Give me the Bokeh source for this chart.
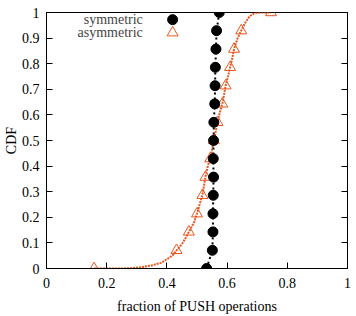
from bokeh.plotting import figure
from bokeh.models import LinearAxis, FixedTicker, Range1d, Label
from bokeh.embed import file_html
from bokeh.resources import INLINE

# CDF of the fraction of PUSH operations
x_ticks = [0, 0.2, 0.4, 0.6, 0.8, 1]
x_tick_labels = ["0", "0.2", "0.4", "0.6", "0.8", "1"]
y_ticks = [0, 0.1, 0.2, 0.3, 0.4, 0.5, 0.6, 0.7, 0.8, 0.9, 1]
y_tick_labels = ["0", "0.1", "0.2", "0.3", "0.4", "0.5", "0.6", "0.7", "0.8", "0.9", "1"]

# symmetric workload
sym_x = [0.532, 0.551, 0.553, 0.553, 0.554, 0.555, 0.554, 0.555,
         0.556, 0.559, 0.560, 0.561, 0.563, 0.565, 0.574]
sym_y = [0.0, 0.071, 0.143, 0.214, 0.286, 0.357, 0.429, 0.5,
         0.571, 0.643, 0.714, 0.786, 0.857, 0.929, 1.0]

# asymmetric workload: full CDF curve
asym_x = [0.158, 0.20, 0.25, 0.29, 0.32, 0.35, 0.38, 0.40, 0.42, 0.432,
          0.45, 0.465, 0.473, 0.49, 0.50, 0.51, 0.518, 0.528, 0.536, 0.544,
          0.55, 0.556, 0.562, 0.568, 0.576, 0.584, 0.59, 0.595, 0.603, 0.61,
          0.617, 0.623, 0.635, 0.647, 0.66, 0.675, 0.69, 0.71, 0.746]
asym_y = [0.0, 0.0, 0.0, 0.002, 0.006, 0.012, 0.022, 0.036, 0.052, 0.071,
          0.095, 0.125, 0.143, 0.18, 0.214, 0.255, 0.286, 0.357, 0.40, 0.429,
          0.465, 0.5, 0.535, 0.571, 0.61, 0.643, 0.68, 0.714, 0.75, 0.786,
          0.82, 0.857, 0.90, 0.929, 0.96, 0.985, 0.997, 1.0, 1.0]
# sampled points shown as markers
asym_mark_x = [0.158, 0.432, 0.473, 0.500, 0.518, 0.528, 0.544, 0.556,
               0.568, 0.584, 0.595, 0.610, 0.623, 0.647, 0.746]
asym_mark_y = [0.0, 0.071, 0.143, 0.214, 0.286, 0.357, 0.429, 0.5,
               0.571, 0.643, 0.714, 0.786, 0.857, 0.929, 1.0]

ORANGE = "#e8561e"
FONT = "Liberation Serif"
FS = "14px"

p = figure(width=356, height=316, output_backend="svg", toolbar_location=None,
           x_range=Range1d(0, 1), y_range=Range1d(0, 1),
           min_border_left=45, min_border_right=9, min_border_top=12,
           min_border_bottom=47, background_fill_color="white",
           border_fill_color="white", outline_line_color="black",
           outline_line_width=1)
p.grid.visible = False

for ax in (p.xaxis[0], p.yaxis[0]):
    ax.major_tick_in = 6
    ax.major_tick_out = 0
    ax.minor_tick_line_color = None
    ax.axis_line_color = "black"
    ax.major_tick_line_color = "black"
    ax.major_label_text_font = FONT
    ax.major_label_text_font_size = FS
    ax.major_label_text_color = "black"
    ax.axis_label_text_font = FONT
    ax.axis_label_text_font_size = FS
    ax.axis_label_text_font_style = "normal"
    ax.axis_label_text_color = "black"

p.xaxis[0].ticker = FixedTicker(ticks=x_ticks)
p.xaxis[0].major_label_overrides = dict(zip(x_ticks, x_tick_labels))
p.xaxis[0].major_label_standoff = 9
p.xaxis[0].axis_label = "fraction of PUSH operations"
p.xaxis[0].axis_label_standoff = 8

p.yaxis[0].ticker = FixedTicker(ticks=y_ticks)
p.yaxis[0].major_label_overrides = dict(zip(y_ticks, y_tick_labels))
p.yaxis[0].major_label_standoff = 7
p.yaxis[0].axis_label = "CDF"
p.yaxis[0].axis_label_standoff = 0
p.yaxis[0].axis_label_text_line_height = 0.65

# mirrored ticks on the right, without labels
right = LinearAxis(ticker=FixedTicker(ticks=y_ticks), major_tick_in=6,
                   major_tick_out=0, minor_tick_line_color=None,
                   major_label_text_font_size="1px",
                   major_label_text_color=None, major_label_standoff=0,
                   axis_line_color="black")
p.add_layout(right, "right")

# asymmetric
p.line(asym_x, asym_y, line_color=ORANGE, line_width=2, line_dash="2 1")
p.scatter(asym_mark_x, asym_mark_y, marker="triangle", size=11,
          fill_color=None, line_color=ORANGE, line_width=1)

# symmetric
p.line(sym_x, sym_y, line_color="black", line_width=2, line_dash="2 3")
p.scatter(sym_x, sym_y, marker="circle", size=10, fill_color="black",
          line_color="black")

# key
p.add_layout(Label(x=0.32, y=0.972, text="symmetric", text_align="right",
                   text_baseline="middle", text_font=FONT, text_font_size=FS))
p.add_layout(Label(x=0.32, y=0.921, text="asymmetric", text_align="right",
                   text_baseline="middle", text_font=FONT, text_font_size=FS))
p.scatter([0.419], [0.972], marker="circle", size=10, fill_color="black",
          line_color="black")
p.scatter([0.419], [0.921], marker="triangle", size=11, fill_color=None,
          line_color=ORANGE, line_width=1)

open("out.html", "w").write(file_html(p, INLINE))
